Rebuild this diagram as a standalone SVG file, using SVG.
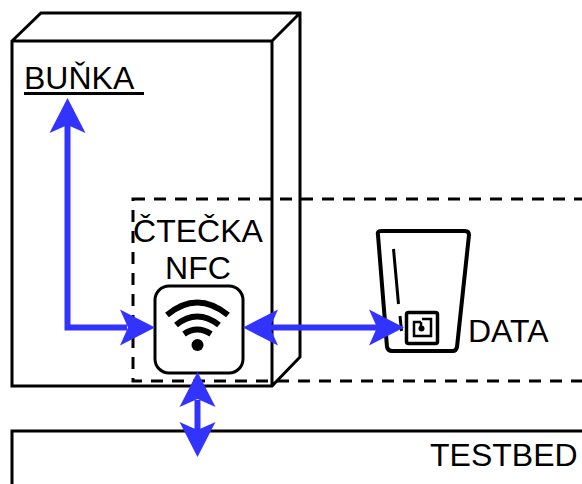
<svg xmlns="http://www.w3.org/2000/svg" width="582" height="484" viewBox="0 0 582 484">
<style>
.k{fill:none;stroke:#000;stroke-width:3;stroke-linejoin:miter}
.i{fill:none;stroke:#000;stroke-linecap:butt}
.a{fill:none;stroke:#3333ff;stroke-width:6}
.h{fill:#3333ff;stroke:none}
text{font-family:"Liberation Sans",Arial,sans-serif;font-size:32px;fill:#000}
</style>
<defs>
<path id="head" class="h" d="M0 0L35 -18L27 0L35 18Z"/>
</defs>
<rect width="582" height="484" fill="#fff"/>
<g id="cell">
<path class="k" d="M12 41L41 13H300V357L272 386H12ZM12 41H272V386M272 41L300 13"/>
<text x="24" y="89">BUŇKA</text>
<rect x="24" y="92" width="120" height="3"/>
</g>
<g id="testbed">
<path class="k" d="M12 486V431H584"/>
<text x="430" y="466">TESTBED</text>
</g>
<g id="reader-zone">
<rect x="133" y="199" width="470" height="182" fill="none" stroke="#000" stroke-width="3" stroke-dasharray="12 9"/>
<text x="198" y="242" text-anchor="middle">ČTEČKA</text>
<text x="198" y="279" text-anchor="middle">NFC</text>
</g>
<g id="nfc-reader">
<rect x="155" y="286" width="88" height="87" rx="14" fill="#fff" stroke="#000" stroke-width="3"/>
<path class="i" stroke-width="6" d="M167 315Q197 290 228 315"/>
<path class="i" stroke-width="6" d="M176 325Q197 308 219 325"/>
<path class="i" stroke-width="6" d="M184 334Q197 325 211 334"/>
<circle cx="197.500" cy="345" r="6" fill="#000"/>
</g>
<g id="data">
<path d="M378 235Q377 231 381 231H465Q469 231 469 235L457 347Q456 351 453 351H392Q388 351 387 347Z" fill="none" stroke="#000" stroke-width="4" stroke-linejoin="round"/>
<path class="i" stroke-width="3" stroke-linecap="round" d="M393.500 249L398.500 304M400 316L401.500 331"/>
<rect x="406.500" y="312.500" width="31" height="31" rx="2" fill="#fff" stroke="#000" stroke-width="3.500"/>
<path class="i" stroke-width="2.500" d="M421 322H414V336H431V319H422"/>
<path class="i" stroke-width="2.500" d="M421 322V329"/>
<circle cx="421.500" cy="328.500" r="3" fill="#000"/>
<text x="468" y="342">DATA</text>
</g>
<g id="connectors">
<path class="a" d="M67.500 125V327.500H127"/>
<use href="#head" transform="translate(67.500,98) rotate(90)"/>
<use href="#head" transform="translate(155,327.500) rotate(180)"/>
<path class="a" d="M270 327.500H377"/>
<use href="#head" transform="translate(243,327.500)"/>
<use href="#head" transform="translate(404,327.500) rotate(180)"/>
<path class="a" d="M197.500 400V430"/>
<use href="#head" transform="translate(197.500,372) rotate(90)"/>
<use href="#head" transform="translate(197.500,457) rotate(-90)"/>
</g>
</svg>
